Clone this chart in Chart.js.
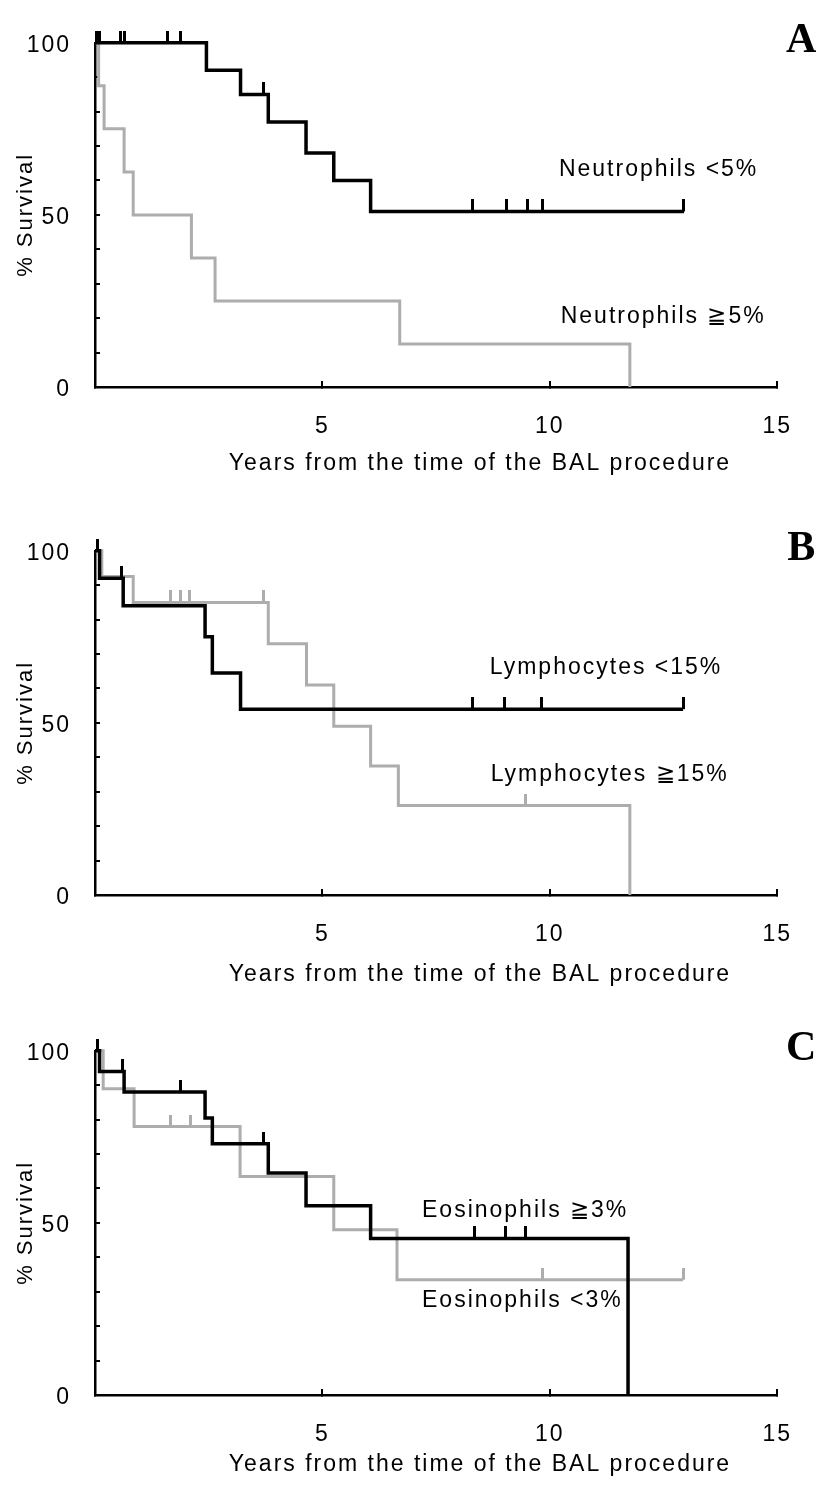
<!DOCTYPE html>
<html>
<head>
<meta charset="utf-8">
<script src="https://cdn.jsdelivr.net/npm/chart.js@4.4.1/dist/chart.umd.min.js"></script>
<style>
    html, body { margin: 0; padding: 0; background: #fff; }
    body { width: 822px; height: 1487px; position: relative; overflow: hidden; }
    .panel { position: absolute; left: 0; width: 822px; }
</style>
</head>
<body>
<div class="panel" style="top:0;height:500px"><canvas id="chart-a"></canvas></div>
<div class="panel" style="top:508px;height:500px"><canvas id="chart-b"></canvas></div>
<div class="panel" style="top:1008px;height:479px"><canvas id="chart-c"></canvas></div>
<script>
// --- Data: years from BAL vs % survival (Kaplan-Meier steps) ---
const xTickValues = [5, 10, 15];
const yTickValues = [0, 50, 100];
const xAxisTitle = 'Years from the time of the BAL procedure';
const yAxisTitle = '% Survival';

// A: neutrophils
const neutLowYears = [0, 2.45, 3.2, 3.81, 4.64, 5.25, 6.06, 12.95];
const neutLowSurv = [100, 92, 85, 77, 68, 60, 51, 51];
const neutLowCensYears = [0.03, 0.1, 0.55, 0.65, 1.6, 1.87, 3.7, 8.31, 9.05, 9.5, 9.85, 12.95];
const neutLowCensSurv = [100, 100, 100, 100, 100, 100, 85, 51, 51, 51, 51, 51];
const neutHighYears = [0, 0.08, 0.2, 0.64, 0.84, 2.12, 2.64, 6.7, 11.76];
const neutHighSurv = [100, 87.5, 75, 62.5, 50, 37.5, 25, 12.5, 0];

// B: lymphocytes
const lymphLowYears = [0, 0.1, 0.62, 2.42, 2.58, 3.2, 12.93];
const lymphLowSurv = [100, 92, 84, 75, 64.5, 54, 54];
const lymphLowCensYears = [0.05, 0.59, 8.31, 9.01, 9.82, 12.93];
const lymphLowCensSurv = [100, 92, 54, 54, 54, 54];
const lymphHighYears = [0, 0.15, 0.84, 3.81, 4.65, 5.25, 6.06, 6.67, 11.76];
const lymphHighSurv = [100, 92.5, 85, 73, 61, 49, 37.5, 26, 0];
const lymphHighCensYears = [1.65, 1.87, 2.07, 3.7, 9.47];
const lymphHighCensSurv = [85, 85, 85, 85, 26];

// C: eosinophils
const eosHighYears = [0, 0.1, 0.64, 2.42, 2.58, 3.81, 4.64, 6.06, 11.72];
const eosHighSurv = [100, 94, 88, 80.5, 73, 64.5, 55, 45.5, 0];
const eosHighCensYears = [0.05, 0.6, 1.87, 3.7, 8.35, 9.03, 9.47];
const eosHighCensSurv = [100, 94, 88, 73, 45.5, 45.5, 45.5];
const eosLowYears = [0, 0.18, 0.86, 3.19, 5.25, 6.64, 12.93];
const eosLowSurv = [100, 89, 78, 63.5, 48, 33.5, 33.5];
const eosLowCensYears = [1.65, 2.09, 9.85, 12.93];
const eosLowCensSurv = [78, 78, 33.5, 33.5];

// --- Styling ---
const BLACK = '#000000';
const GREY = '#adadad';
const FONT = '"Liberation Sans", Arial, sans-serif';
const TEXT_SIZE = 23;
const LETTER_SPACING = '2px';

Chart.defaults.font.family = FONT;
Chart.defaults.font.size = TEXT_SIZE;
Chart.defaults.color = '#000';

const PANELS = [
    {
        id: 'a', letter: 'A', height: 500, titleOffset: 77,
        curves: [
            { years: neutLowYears, surv: neutLowSurv, color: BLACK },
            { years: neutHighYears, surv: neutHighSurv, color: GREY }
        ],
        censors: [
            { years: neutLowCensYears, surv: neutLowCensSurv, color: BLACK }
        ],
        labels: [
            { text: 'Neutrophils <5%', x: 10.2, y: 63 },
            { text: 'Neutrophils \u22675%', x: 10.24, y: 20.5 }
        ]
    },
    {
        id: 'b', letter: 'B', height: 500, titleOffset: 80,
        curves: [
            { years: lymphLowYears, surv: lymphLowSurv, color: BLACK },
            { years: lymphHighYears, surv: lymphHighSurv, color: GREY }
        ],
        censors: [
            { years: lymphLowCensYears, surv: lymphLowCensSurv, color: BLACK },
            { years: lymphHighCensYears, surv: lymphHighCensSurv, color: GREY }
        ],
        labels: [
            { text: 'Lymphocytes <15%', x: 8.68, y: 66 },
            { text: 'Lymphocytes \u226715%', x: 8.7, y: 35 }
        ]
    },
    {
        id: 'c', letter: 'C', height: 479, titleOffset: 70,
        curves: [
            { years: eosHighYears, surv: eosHighSurv, color: BLACK },
            { years: eosLowYears, surv: eosLowSurv, color: GREY }
        ],
        censors: [
            { years: eosHighCensYears, surv: eosHighCensSurv, color: BLACK },
            { years: eosLowCensYears, surv: eosLowCensSurv, color: GREY }
        ],
        labels: [
            { text: 'Eosinophils \u22673%', x: 7.19, y: 53.6 },
            { text: 'Eosinophils <3%', x: 7.19, y: 27.5 }
        ]
    }
];

// censor mark: a short vertical stroke standing on the curve
function makeCensorMark(color) {
    const c = document.createElement('canvas');
    c.width = 3;
    c.height = 24;
    const g = c.getContext('2d');
    g.fillStyle = color;
    g.fillRect(0, 0, 3, 12);
    return c;
}
const censorMarks = { [BLACK]: makeCensorMark(BLACK), [GREY]: makeCensorMark(GREY) };

function toPoints(xs, ys) {
    return xs.map((x, i) => ({ x: x, y: ys[i] }));
}

// draws curve labels, x-axis title and panel letter
const annotatePlugin = {
    id: 'annotate',
    beforeDraw(chart) {
        chart.ctx.letterSpacing = LETTER_SPACING;
    },
    afterDraw(chart) {
        const panel = chart.options.plugins.annotate.panel;
        const { ctx, chartArea, scales } = chart;
        ctx.save();
        ctx.fillStyle = '#000';
        ctx.textBaseline = 'middle';
        ctx.font = `${TEXT_SIZE}px ${FONT}`;
        ctx.textAlign = 'left';
        panel.labels.forEach(l => {
            ctx.fillText(l.text, scales.x.getPixelForValue(l.x), scales.y.getPixelForValue(l.y));
        });
        ctx.textAlign = 'center';
        ctx.fillText(xAxisTitle, chartArea.left + 385, chartArea.bottom + panel.titleOffset);
        ctx.font = 'bold 42px "Liberation Serif", "Times New Roman", serif';
        ctx.fillText(panel.letter, chartArea.right + 25, chartArea.top - 2);
        ctx.restore();
    }
};

function buildChart(panel) {
    const datasets = [];
    panel.curves.forEach(c => {
        datasets.push({
            type: 'line',
            data: toPoints(c.years, c.surv),
            borderColor: c.color,
            borderWidth: c.color === BLACK ? 3.5 : 3,
            stepped: 'before',
            pointRadius: 0,
            fill: false,
            clip: false,
            order: c.color === BLACK ? 1 : 2
        });
    });
    panel.censors.forEach(c => {
        datasets.push({
            type: 'line',
            data: toPoints(c.years, c.surv),
            showLine: false,
            pointStyle: censorMarks[c.color],
            pointRadius: 6,
            clip: false,
            order: 0
        });
    });

    const ctx = document.getElementById(`chart-${panel.id}`).getContext('2d');
    return new Chart(ctx, {
        type: 'line',
        data: { datasets },
        plugins: [annotatePlugin],
        options: {
            responsive: true,
            maintainAspectRatio: false,
            animation: false,
            events: [],
            layout: { padding: { top: 35, right: 44, left: 0, bottom: panel.height - 477 } },
            plugins: {
                legend: { display: false },
                tooltip: { enabled: false },
                annotate: { panel }
            },
            scales: {
                x: {
                    type: 'linear',
                    min: 0,
                    max: 15,
                    afterFit: s => { s.height = 90; },
                    border: { display: true, color: '#000', width: 2.5 },
                    grid: { drawOnChartArea: false, tickLength: -6, color: '#000', lineWidth: 2 },
                    ticks: {
                        stepSize: 5,
                        maxRotation: 0,
                        autoSkip: false,
                        padding: 32,
                        callback: v => xTickValues.includes(v) ? String(v) : ''
                    }
                },
                y: {
                    min: 0,
                    max: 100,
                    afterFit: s => { s.width = 95; },
                    border: { display: true, color: '#000', width: 2.5 },
                    grid: { drawOnChartArea: false, tickLength: -5, color: '#000', lineWidth: 2 },
                    title: {
                        display: true,
                        text: yAxisTitle,
                        font: { size: 22 },
                        padding: { top: 13, bottom: 0 }
                    },
                    ticks: {
                        stepSize: 10,
                        autoSkip: false,
                        padding: 29,
                        labelOffset: 3,
                        callback: v => yTickValues.includes(v) ? String(v) : ''
                    }
                }
            }
        }
    });
}

PANELS.forEach(buildChart);
</script>
</body>
</html>
